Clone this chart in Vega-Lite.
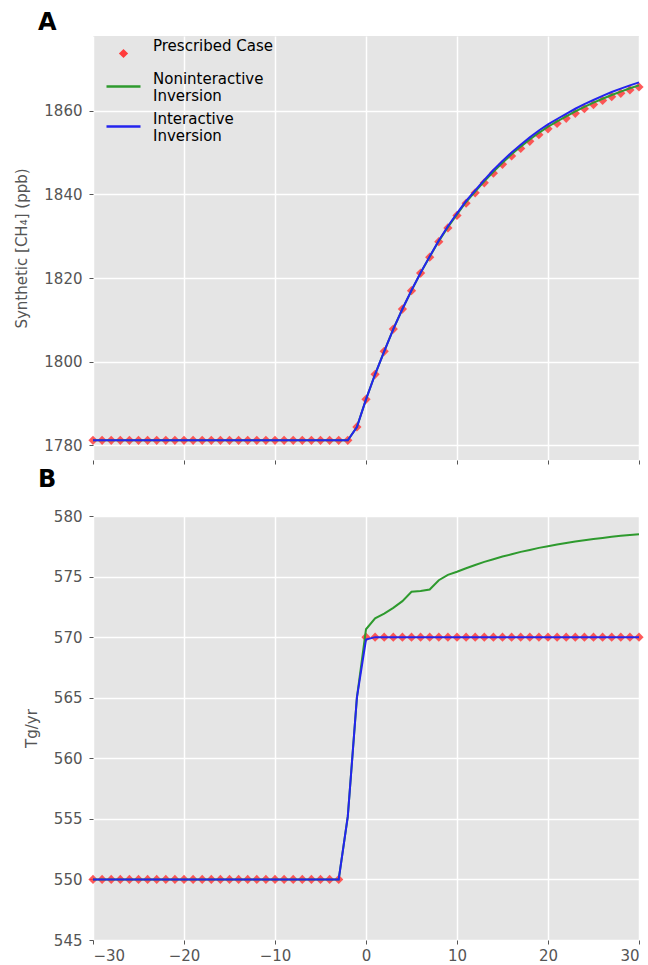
{
  "$schema": "https://vega.github.io/schema/vega-lite/v6.json",
  "padding": {"left": 14, "top": 11, "right": 10, "bottom": 2},
  "datasets": {
    "a": [
      {"x": -30, "p": 1781.2, "n": 1781.2, "i": 1781.2},
      {"x": -29, "p": 1781.2, "n": 1781.2, "i": 1781.2},
      {"x": -28, "p": 1781.2, "n": 1781.2, "i": 1781.2},
      {"x": -27, "p": 1781.2, "n": 1781.2, "i": 1781.2},
      {"x": -26, "p": 1781.2, "n": 1781.2, "i": 1781.2},
      {"x": -25, "p": 1781.2, "n": 1781.2, "i": 1781.2},
      {"x": -24, "p": 1781.2, "n": 1781.2, "i": 1781.2},
      {"x": -23, "p": 1781.2, "n": 1781.2, "i": 1781.2},
      {"x": -22, "p": 1781.2, "n": 1781.2, "i": 1781.2},
      {"x": -21, "p": 1781.2, "n": 1781.2, "i": 1781.2},
      {"x": -20, "p": 1781.2, "n": 1781.2, "i": 1781.2},
      {"x": -19, "p": 1781.2, "n": 1781.2, "i": 1781.2},
      {"x": -18, "p": 1781.2, "n": 1781.2, "i": 1781.2},
      {"x": -17, "p": 1781.2, "n": 1781.2, "i": 1781.2},
      {"x": -16, "p": 1781.2, "n": 1781.2, "i": 1781.2},
      {"x": -15, "p": 1781.2, "n": 1781.2, "i": 1781.2},
      {"x": -14, "p": 1781.2, "n": 1781.2, "i": 1781.2},
      {"x": -13, "p": 1781.2, "n": 1781.2, "i": 1781.2},
      {"x": -12, "p": 1781.2, "n": 1781.2, "i": 1781.2},
      {"x": -11, "p": 1781.2, "n": 1781.2, "i": 1781.2},
      {"x": -10, "p": 1781.2, "n": 1781.2, "i": 1781.2},
      {"x": -9, "p": 1781.2, "n": 1781.2, "i": 1781.2},
      {"x": -8, "p": 1781.2, "n": 1781.2, "i": 1781.2},
      {"x": -7, "p": 1781.2, "n": 1781.2, "i": 1781.2},
      {"x": -6, "p": 1781.2, "n": 1781.2, "i": 1781.2},
      {"x": -5, "p": 1781.2, "n": 1781.2, "i": 1781.2},
      {"x": -4, "p": 1781.2, "n": 1781.2, "i": 1781.2},
      {"x": -3, "p": 1781.2, "n": 1781.2, "i": 1781.2},
      {"x": -2, "p": 1781.2, "n": 1781.2, "i": 1781.2},
      {"x": -1, "p": 1784.4, "n": 1784.4, "i": 1784.4},
      {"x": 0, "p": 1791.0, "n": 1791.0, "i": 1791.0},
      {"x": 1, "p": 1797.0, "n": 1797.0, "i": 1797.0},
      {"x": 2, "p": 1802.5, "n": 1802.5, "i": 1802.5},
      {"x": 3, "p": 1807.8, "n": 1807.8, "i": 1807.8},
      {"x": 4, "p": 1812.6, "n": 1812.6, "i": 1812.6},
      {"x": 5, "p": 1817.0, "n": 1817.0, "i": 1817.1},
      {"x": 6, "p": 1821.2, "n": 1821.25, "i": 1821.3},
      {"x": 7, "p": 1825.0, "n": 1825.1, "i": 1825.2},
      {"x": 8, "p": 1828.7, "n": 1828.85, "i": 1829.0},
      {"x": 9, "p": 1832.0, "n": 1832.2, "i": 1832.4},
      {"x": 10, "p": 1835.0, "n": 1835.25, "i": 1835.5},
      {"x": 11, "p": 1837.9, "n": 1838.2, "i": 1838.45},
      {"x": 12, "p": 1840.4, "n": 1840.7, "i": 1841.0},
      {"x": 13, "p": 1842.8, "n": 1843.15, "i": 1843.5},
      {"x": 14, "p": 1845.1, "n": 1845.45, "i": 1845.85},
      {"x": 15, "p": 1847.2, "n": 1847.6, "i": 1848.0},
      {"x": 16, "p": 1849.2, "n": 1849.6, "i": 1850.05},
      {"x": 17, "p": 1851.0, "n": 1851.45, "i": 1851.9},
      {"x": 18, "p": 1852.7, "n": 1853.15, "i": 1853.65},
      {"x": 19, "p": 1854.3, "n": 1854.75, "i": 1855.3},
      {"x": 20, "p": 1855.7, "n": 1856.2, "i": 1856.75},
      {"x": 21, "p": 1857.0, "n": 1857.5, "i": 1858.05},
      {"x": 22, "p": 1858.2, "n": 1858.7, "i": 1859.3},
      {"x": 23, "p": 1859.4, "n": 1859.85, "i": 1860.5},
      {"x": 24, "p": 1860.5, "n": 1860.95, "i": 1861.6},
      {"x": 25, "p": 1861.5, "n": 1861.95, "i": 1862.6},
      {"x": 26, "p": 1862.5, "n": 1862.9, "i": 1863.6},
      {"x": 27, "p": 1863.4, "n": 1863.8, "i": 1864.5},
      {"x": 28, "p": 1864.2, "n": 1864.6, "i": 1865.3},
      {"x": 29, "p": 1865.0, "n": 1865.4, "i": 1866.1},
      {"x": 30, "p": 1865.7, "n": 1866.1, "i": 1866.8}
    ],
    "b": [
      {"x": -30, "p": 550, "n": 550, "i": 550},
      {"x": -29, "p": 550, "n": 550, "i": 550},
      {"x": -28, "p": 550, "n": 550, "i": 550},
      {"x": -27, "p": 550, "n": 550, "i": 550},
      {"x": -26, "p": 550, "n": 550, "i": 550},
      {"x": -25, "p": 550, "n": 550, "i": 550},
      {"x": -24, "p": 550, "n": 550, "i": 550},
      {"x": -23, "p": 550, "n": 550, "i": 550},
      {"x": -22, "p": 550, "n": 550, "i": 550},
      {"x": -21, "p": 550, "n": 550, "i": 550},
      {"x": -20, "p": 550, "n": 550, "i": 550},
      {"x": -19, "p": 550, "n": 550, "i": 550},
      {"x": -18, "p": 550, "n": 550, "i": 550},
      {"x": -17, "p": 550, "n": 550, "i": 550},
      {"x": -16, "p": 550, "n": 550, "i": 550},
      {"x": -15, "p": 550, "n": 550, "i": 550},
      {"x": -14, "p": 550, "n": 550, "i": 550},
      {"x": -13, "p": 550, "n": 550, "i": 550},
      {"x": -12, "p": 550, "n": 550, "i": 550},
      {"x": -11, "p": 550, "n": 550, "i": 550},
      {"x": -10, "p": 550, "n": 550, "i": 550},
      {"x": -9, "p": 550, "n": 550, "i": 550},
      {"x": -8, "p": 550, "n": 550, "i": 550},
      {"x": -7, "p": 550, "n": 550, "i": 550},
      {"x": -6, "p": 550, "n": 550, "i": 550},
      {"x": -5, "p": 550, "n": 550, "i": 550},
      {"x": -4, "p": 550, "n": 550, "i": 550},
      {"x": -3, "p": 550, "n": 550, "i": 550},
      {"x": -2, "p": null, "n": 555.2, "i": 555.2},
      {"x": -1, "p": null, "n": 565.0, "i": 565.0},
      {"x": 0, "p": 570, "n": 570.65, "i": 569.8},
      {"x": 1, "p": 570, "n": 571.55, "i": 570.0},
      {"x": 2, "p": 570, "n": 571.95, "i": 570.0},
      {"x": 3, "p": 570, "n": 572.42, "i": 570.0},
      {"x": 4, "p": 570, "n": 572.97, "i": 570.0},
      {"x": 5, "p": 570, "n": 573.74, "i": 570.0},
      {"x": 6, "p": 570, "n": 573.8, "i": 570.0},
      {"x": 7, "p": 570, "n": 573.93, "i": 570.0},
      {"x": 8, "p": 570, "n": 574.7, "i": 570.0},
      {"x": 9, "p": 570, "n": 575.14, "i": 570.0},
      {"x": 10, "p": 570, "n": 575.4, "i": 570.0},
      {"x": 11, "p": 570, "n": 575.69, "i": 570.0},
      {"x": 12, "p": 570, "n": 575.96, "i": 570.0},
      {"x": 13, "p": 570, "n": 576.21, "i": 570.0},
      {"x": 14, "p": 570, "n": 576.43, "i": 570.0},
      {"x": 15, "p": 570, "n": 576.65, "i": 570.0},
      {"x": 16, "p": 570, "n": 576.84, "i": 570.0},
      {"x": 17, "p": 570, "n": 577.04, "i": 570.0},
      {"x": 18, "p": 570, "n": 577.2, "i": 570.0},
      {"x": 19, "p": 570, "n": 577.37, "i": 570.0},
      {"x": 20, "p": 570, "n": 577.5, "i": 570.0},
      {"x": 21, "p": 570, "n": 577.64, "i": 570.0},
      {"x": 22, "p": 570, "n": 577.78, "i": 570.0},
      {"x": 23, "p": 570, "n": 577.89, "i": 570.0},
      {"x": 24, "p": 570, "n": 578.0, "i": 570.0},
      {"x": 25, "p": 570, "n": 578.11, "i": 570.0},
      {"x": 26, "p": 570, "n": 578.19, "i": 570.0},
      {"x": 27, "p": 570, "n": 578.28, "i": 570.0},
      {"x": 28, "p": 570, "n": 578.36, "i": 570.0},
      {"x": 29, "p": 570, "n": 578.43, "i": 570.0},
      {"x": 30, "p": 570, "n": 578.5, "i": 570.0}
    ]
  },
  "spacing": 56,
  "bounds": "flush",
  "vconcat": [
    {
      "title": {"text": "A", "dx": -55, "offset": 1},
      "width": 546,
      "height": 424,
      "data": {"name": "a"},
      "encoding": {
        "x": {"field": "x", "type": "quantitative", "scale": {"domain": [-30, 30], "nice": false, "zero": false}, "axis": {"values": [-30, -20, -10, 0, 10, 20, 30], "labels": false, "title": null}}
      },
      "layer": [
        {
          "mark": {"type": "point", "filled": true, "fillOpacity": 0.85, "strokeWidth": 2.5},
          "encoding": {
            "y": {"field": "p", "type": "quantitative", "scale": {"domain": [1776.5, 1877.9], "nice": false, "zero": false}, "axis": {"values": [1780, 1800, 1820, 1840, 1860], "format": "d", "title": "Synthetic [CH₄] (ppb)"}},
            "fill": {
              "datum": "Prescribed Case", "type": "nominal",
              "scale": {"domain": ["Prescribed Case", "Noninteractive Inversion", "Interactive Inversion"], "range": ["#ff3c3c", "transparent", "transparent"]},
              "legend": {"labelExpr": "datum.label == 'Prescribed Case' ? datum.label : split(datum.label, ' ')"}
            },
            "stroke": {
              "datum": "Prescribed Case", "type": "nominal",
              "scale": {"domain": ["Prescribed Case", "Noninteractive Inversion", "Interactive Inversion"], "range": ["transparent", "#2e9a2e", "#2424ee"]},
              "legend": {"labelExpr": "datum.label == 'Prescribed Case' ? datum.label : split(datum.label, ' ')"}
            },
            "shape": {
              "datum": "Prescribed Case", "type": "nominal",
              "scale": {"domain": ["Prescribed Case", "Noninteractive Inversion", "Interactive Inversion"], "range": ["diamond", "stroke", "stroke"]},
              "legend": {"labelExpr": "datum.label == 'Prescribed Case' ? datum.label : split(datum.label, ' ')"}
            },
            "size": {
              "datum": "Prescribed Case", "type": "ordinal",
              "scale": {"type": "ordinal", "domain": ["Prescribed Case", "Noninteractive Inversion", "Interactive Inversion"], "range": [85, 1156, 1156]},
              "legend": {"labelExpr": "datum.label == 'Prescribed Case' ? datum.label : split(datum.label, ' ')"}
            }
          }
        },
        {
          "mark": {"type": "line", "color": "#2e9a2e", "strokeWidth": 2},
          "encoding": {
            "y": {"field": "n", "type": "quantitative", "scale": {"domain": [1776.5, 1877.9], "nice": false, "zero": false}, "axis": {"values": [1780, 1800, 1820, 1840, 1860], "format": "d", "title": "Synthetic [CH₄] (ppb)"}}
          }
        },
        {
          "mark": {"type": "line", "color": "#2424ee", "strokeWidth": 2},
          "encoding": {
            "y": {"field": "i", "type": "quantitative", "scale": {"domain": [1776.5, 1877.9], "nice": false, "zero": false}, "axis": {"values": [1780, 1800, 1820, 1840, 1860], "format": "d", "title": "Synthetic [CH₄] (ppb)"}}
          }
        }
      ]
    },
    {
      "title": {"text": "B", "dx": -55, "offset": 17},
      "width": 546,
      "height": 424,
      "data": {"name": "b"},
      "encoding": {
        "x": {"field": "x", "type": "quantitative", "scale": {"domain": [-30, 30], "nice": false, "zero": false}, "axis": {"values": [-30, -20, -10, 0, 10, 20, 30], "title": null, "labelPadding": 4}}
      },
      "layer": [
        {
          "mark": {"type": "point", "shape": "diamond", "filled": true, "size": 85, "fillOpacity": 0.85, "color": "#ff3c3c"},
          "encoding": {
            "y": {"field": "p", "type": "quantitative", "scale": {"domain": [545, 580], "nice": false, "zero": false}, "axis": {"values": [545, 550, 555, 560, 565, 570, 575, 580], "title": "Tg/yr"}}
          }
        },
        {
          "mark": {"type": "line", "color": "#2e9a2e", "strokeWidth": 2},
          "encoding": {
            "y": {"field": "n", "type": "quantitative", "scale": {"domain": [545, 580], "nice": false, "zero": false}, "axis": {"values": [545, 550, 555, 560, 565, 570, 575, 580], "title": "Tg/yr"}}
          }
        },
        {
          "mark": {"type": "line", "color": "#2424ee", "strokeWidth": 2},
          "encoding": {
            "y": {"field": "i", "type": "quantitative", "scale": {"domain": [545, 580], "nice": false, "zero": false}, "axis": {"values": [545, 550, 555, 560, 565, 570, 575, 580], "title": "Tg/yr"}}
          }
        }
      ]
    }
  ],
  "config": {
    "font": "DejaVu Sans",
    "view": {"fill": "#E5E5E5", "stroke": null},
    "axis": {
      "domain": false,
      "grid": true,
      "gridColor": "#FFFFFF",
      "gridWidth": 1.5,
      "tickColor": "#555555",
      "tickSize": 4,
      "tickWidth": 1,
      "labelColor": "#555555",
      "labelFontSize": 15,
      "labelPadding": 7,
      "titleColor": "#555555",
      "titleFontSize": 15,
      "titleFontWeight": "normal",
      "titlePadding": 14
    },
    "legend": {
      "title": null,
      "orient": "none",
      "legendX": 12,
      "legendY": 10,
      "padding": 0,
      "rowPadding": 4,
      "labelOffset": 11,
      "labelFontSize": 15,
      "labelColor": "#000000",
      "labelLimit": 400,
      "labelBaseline": "bottom",
      "symbolStrokeWidth": 2.5,
      "symbolOpacity": 1
    },
    "title": {"fontSize": 24, "fontWeight": "bold", "color": "#000000", "anchor": "start", "frame": "group"}
  }
}
